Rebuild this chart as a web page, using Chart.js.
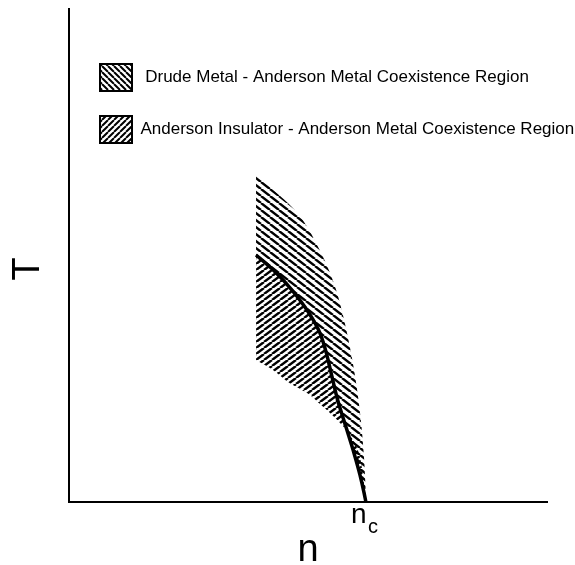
<!DOCTYPE html>
<html>
<head>
<meta charset="utf-8">
<script src="https://cdn.jsdelivr.net/npm/chart.js@4.4.1/dist/chart.umd.min.js"></script>
<style>
  html, body { margin: 0; padding: 0; background: #fff; }
</style>
</head>
<body>
<canvas id="phaseChart" width="575" height="565"></canvas>
<script>
// n is in units of n_c, T in units of the top of the axis
const nMax = 1.61;
const tMax = 1;
const ncValue = 1;

// solid line: the transition curve ending at n_c
const curveN = [0.630, 0.694, 0.751, 0.802, 0.845, 0.866, 0.882, 0.903, 0.933, 0.960, 0.980, 0.994, 1.000];
const curveT = [0.501, 0.467, 0.430, 0.389, 0.343, 0.304, 0.264, 0.211, 0.152, 0.099, 0.055, 0.018, 0.000];

// outer edge of the Drude metal / Anderson metal region
const drudeN = [0.630, 0.684, 0.738, 0.785, 0.829, 0.869, 0.903, 0.929, 0.950, 0.970, 0.984, 0.994, 1.000];
const drudeT = [0.663, 0.635, 0.606, 0.574, 0.529, 0.479, 0.424, 0.363, 0.302, 0.229, 0.160, 0.087, 0.014];

// lower edge of the Anderson insulator / Anderson metal region
const insulN = [0.630, 0.687, 0.744, 0.802, 0.856, 0.913, 0.957, 0.980, 0.990, 1.000];
const insulT = [0.288, 0.268, 0.241, 0.221, 0.193, 0.160, 0.126, 0.091, 0.055, 0.004];

const legendLabels = [
    ' Drude Metal - Anderson Metal Coexistence Region',
    'Anderson Insulator - Anderson Metal Coexistence Region'
];

function toPoints(xs, ys) {
    return xs.map((x, i) => ({ x: x, y: ys[i] }));
}

// diagonal hatch tile, 'back' = \\\ and 'fwd' = ///
function hatch(w, h, lw, dir) {
    const c = document.createElement('canvas');
    c.width = w;
    c.height = h;
    const g = c.getContext('2d');
    g.strokeStyle = '#000';
    g.lineWidth = lw;
    g.beginPath();
    for (let k = -1; k <= 1; k++) {
        if (dir === 'back') {
            g.moveTo(k * w, 0);
            g.lineTo(k * w + w, h);
        } else {
            g.moveTo(k * w, h);
            g.lineTo(k * w + w, 0);
        }
    }
    g.stroke();
    return g.createPattern(c, 'repeat');
}

const drudeFill = hatch(9, 7, 2.4, 'back');
const insulFill = hatch(8, 6, 2.4, 'fwd');
const legendFills = [hatch(6, 6, 2, 'back'), hatch(6, 6, 2, 'fwd')];

const textFont = '"Liberation Sans", Arial, sans-serif';

// the legend sits inside the plot, below the top of the T axis
const legendPlace = {
    id: 'legendPlace',
    afterLayout(chart) {
        const lg = chart.legend;
        if (!lg) return;
        lg.left = chart.chartArea.left + 6;
        lg.top = 39;
        lg.right = chart.width;
    }
};

// T, n and n_c labels
const axisLabels = {
    id: 'axisLabels',
    afterDraw(chart) {
        const ctx = chart.ctx;
        const area = chart.chartArea;
        const ncX = chart.scales.x.getPixelForValue(ncValue);
        ctx.save();
        ctx.fillStyle = '#000';
        ctx.textBaseline = 'alphabetic';

        ctx.textAlign = 'left';
        ctx.font = '28px ' + textFont;
        ctx.fillText('n', ncX - 15, 523);
        ctx.font = '20px ' + textFont;
        ctx.fillText('c', ncX + 2, 533);

        ctx.textAlign = 'center';
        ctx.font = '38px ' + textFont;
        ctx.fillText('n', (area.left + area.right) / 2, 561);

        ctx.translate(39, 269);
        ctx.rotate(-Math.PI / 2);
        ctx.fillText('T', 0, 0);
        ctx.restore();
    }
};

const lineBase = {
    showLine: true,
    pointRadius: 0,
    pointHoverRadius: 0,
    cubicInterpolationMode: 'monotone'
};

new Chart(document.getElementById('phaseChart'), {
    type: 'scatter',
    data: {
        datasets: [
            Object.assign({}, lineBase, {
                label: legendLabels[0],
                data: toPoints(drudeN, drudeT),
                borderColor: 'rgba(0,0,0,0)',
                borderWidth: 1,
                backgroundColor: drudeFill,
                fill: 1,
                order: 1
            }),
            Object.assign({}, lineBase, {
                label: 'transition',
                data: toPoints(curveN, curveT),
                borderColor: '#000',
                borderWidth: 3.5,
                fill: false,
                order: 0
            }),
            Object.assign({}, lineBase, {
                label: legendLabels[1],
                data: toPoints(insulN, insulT),
                borderColor: 'rgba(0,0,0,0)',
                borderWidth: 1,
                backgroundColor: insulFill,
                fill: 1,
                order: 1
            })
        ]
    },
    options: {
        responsive: false,
        animation: false,
        events: [],
        layout: { padding: { left: 69, right: 28, top: 9, bottom: 63 } },
        scales: {
            x: {
                type: 'linear',
                min: 0,
                max: nMax,
                ticks: { display: false },
                grid: { display: false, drawTicks: false },
                border: { display: true, color: '#000', width: 2 }
            },
            y: {
                type: 'linear',
                min: 0,
                max: tMax,
                ticks: { display: false },
                grid: { display: false, drawTicks: false },
                border: { display: true, color: '#000', width: 2 }
            }
        },
        plugins: {
            tooltip: { enabled: false },
            legend: {
                position: 'chartArea',
                align: 'start',
                labels: {
                    boxWidth: 32,
                    boxHeight: 27,
                    padding: 25,
                    color: '#000',
                    font: { family: textFont, size: 17 },
                    generateLabels: function () {
                        return legendLabels.map((text, i) => ({
                            text: text,
                            fillStyle: legendFills[i],
                            strokeStyle: '#000',
                            fontColor: '#000',
                            lineWidth: 2,
                            hidden: false,
                            datasetIndex: i === 0 ? 0 : 2
                        }));
                    }
                }
            }
        }
    },
    plugins: [legendPlace, axisLabels]
});
</script>
</body>
</html>
